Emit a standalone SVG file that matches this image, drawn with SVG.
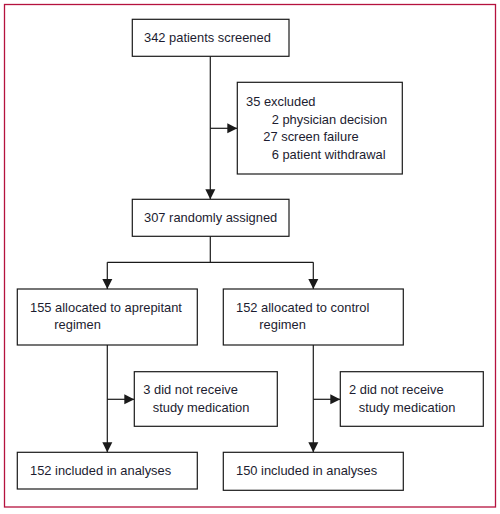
<svg xmlns="http://www.w3.org/2000/svg" width="500" height="514" viewBox="0 0 500 514">
<defs>
<marker id="ah" viewBox="0 0 10 10" refX="10" refY="5" markerWidth="10" markerHeight="10.5" markerUnits="userSpaceOnUse" orient="auto">
<path d="M0,0 L10,5 L0,10 Z" fill="#1a1a1a"/>
</marker>
<style>
.box{fill:#fff;stroke:#1a1a1a;stroke-width:1.2}
.t{font-family:"Liberation Sans",Arial,sans-serif;font-size:12.9px;fill:#1c1c30}
.c{fill:none;stroke:#1a1a1a;stroke-width:1.2}
</style>
</defs>
<rect x="0" y="0" width="500" height="514" fill="#fff"/>
<rect x="4.5" y="4.5" width="491" height="502.5" fill="none" stroke="#b5123e" stroke-width="1.3"/>
<g id="connectors">
<path class="c" d="M210.3,56.3 V199.3" marker-end="url(#ah)"/>
<path class="c" d="M210.3,128.3 H237.3" marker-end="url(#ah)"/>
<path class="c" d="M210.3,236.3 V262.3 M107.3,262.3 H313.3"/>
<path class="c" d="M107.3,262.3 V289" marker-end="url(#ah)"/>
<path class="c" d="M313.3,262.3 V289" marker-end="url(#ah)"/>
<path class="c" d="M107.3,345 V452.3" marker-end="url(#ah)"/>
<path class="c" d="M313.3,345 V452.3" marker-end="url(#ah)"/>
<path class="c" d="M107.3,399.3 H134.3" marker-end="url(#ah)"/>
<path class="c" d="M313.3,399.3 H340.3" marker-end="url(#ah)"/>
</g>
<g id="screened">
<rect class="box" x="132.3" y="19.3" width="156.7" height="37"/>
<text class="t" x="144" y="42">342 patients screened</text>
</g>
<g id="excluded">
<rect class="box" x="237.3" y="82.3" width="165" height="91.7"/>
<text class="t" x="246" y="106">35 excluded</text>
<text class="t" x="271.7" y="123.5">2 physician decision</text>
<text class="t" x="263.3" y="141">27 screen failure</text>
<text class="t" x="271.7" y="158.5">6 patient withdrawal</text>
</g>
<g id="randomised">
<rect class="box" x="132.3" y="199.3" width="156.7" height="37"/>
<text class="t" x="144" y="222">307 randomly assigned</text>
</g>
<g id="aprepitant">
<rect class="box" x="17.3" y="289" width="180" height="56"/>
<text class="t" x="30" y="312">155 allocated to aprepitant</text>
<text class="t" x="54.3" y="329">regimen</text>
</g>
<g id="control">
<rect class="box" x="223.3" y="289" width="180" height="56"/>
<text class="t" x="236" y="312">152 allocated to control</text>
<text class="t" x="259.3" y="329">regimen</text>
</g>
<g id="norx-a">
<rect class="box" x="134.3" y="371.7" width="143" height="54.6"/>
<text class="t" x="143.3" y="394">3 did not receive</text>
<text class="t" x="152.7" y="412">study medication</text>
</g>
<g id="norx-c">
<rect class="box" x="340.3" y="371.7" width="143" height="54.6"/>
<text class="t" x="349" y="394">2 did not receive</text>
<text class="t" x="358.7" y="412">study medication</text>
</g>
<g id="analysed-a">
<rect class="box" x="17.3" y="452.3" width="180" height="36.7"/>
<text class="t" x="30" y="475">152 included in analyses</text>
</g>
<g id="analysed-c">
<rect class="box" x="223.3" y="452.3" width="180" height="38"/>
<text class="t" x="236" y="475">150 included in analyses</text>
</g>
</svg>
